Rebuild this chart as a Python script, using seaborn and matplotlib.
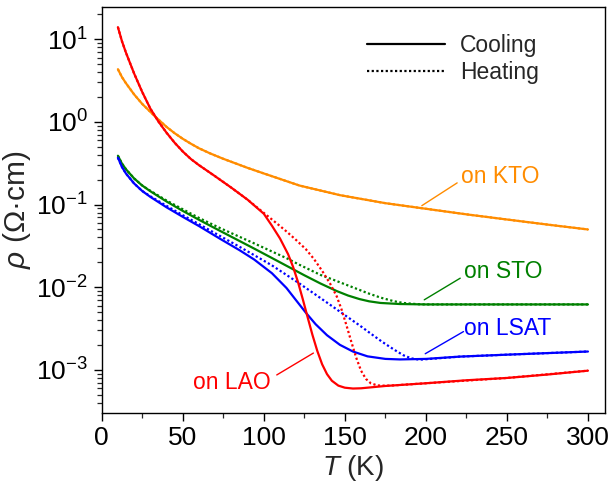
import numpy as np
import pandas as pd
import matplotlib
matplotlib.use("Agg")
import matplotlib.pyplot as plt
import seaborn as sns
from matplotlib.lines import Line2D
from matplotlib.ticker import LogLocator, MultipleLocator, NullFormatter

# ---------------- data ----------------
kto_T_cool = [10, 12.5, 15, 20, 25, 33, 40, 45, 50, 55, 60, 67, 75, 90, 100, 122, 147, 175, 200,
              225, 250, 275, 300]
kto_r_cool = [4.34, 3.48, 2.93, 2.15, 1.65, 1.16, 0.87, 0.73, 0.625, 0.545, 0.48, 0.415, 0.358,
              0.278, 0.238, 0.17, 0.13, 0.104, 0.089, 0.0762, 0.066, 0.0573, 0.050]
kto_T_heat = kto_T_cool
kto_r_heat = kto_r_cool

lao_T_cool = [10, 12.5, 15, 20, 25, 30, 35, 40, 45, 50, 55, 60, 65, 70, 80, 90, 100, 105, 110, 115,
              118, 121, 124, 127, 130, 133, 136, 139, 142, 146, 150, 155, 160, 175, 200, 225, 250,
              275, 300]
lao_r_cool = [14.0, 9.46, 6.85, 3.85, 2.30, 1.45, 1.01, 0.74, 0.56, 0.439, 0.356, 0.30, 0.257,
              0.22, 0.16, 0.1146, 0.0775, 0.0556, 0.0389, 0.0251, 0.0178, 0.01175, 0.00724,
              0.00437, 0.00266, 0.0017, 0.00117, 0.00089, 0.00074, 0.000646, 0.00061, 0.000596,
              0.0006, 0.00064, 0.00069, 0.00075, 0.00080, 0.00088, 0.00098]
lao_T_heat = [10, 12.5, 15, 20, 25, 30, 35, 40, 45, 50, 55, 60, 65, 70, 80, 90, 100, 105, 110, 114,
              120, 126, 131, 136, 141, 145, 148, 151, 154, 157, 160, 163, 166, 170, 175, 180, 200,
              250, 300]
lao_r_heat = [14.0, 9.46, 6.85, 3.85, 2.30, 1.45, 1.01, 0.74, 0.56, 0.439, 0.356, 0.30, 0.257,
              0.22, 0.16, 0.1146, 0.0794, 0.0661, 0.055, 0.0473, 0.0372, 0.0288, 0.0219, 0.0158,
              0.011, 0.00776, 0.00537, 0.00347, 0.00219, 0.00141, 0.00098, 0.00078, 0.00069,
              0.00065, 0.000645, 0.00065, 0.00069, 0.0008, 0.00098]

sto_T_cool = [10, 12.5, 15, 20, 25, 30, 40, 50, 60, 73, 85, 94, 105, 114, 125, 135, 145, 152, 159,
              165, 172, 184, 200, 250, 300]
sto_r_cool = [0.39, 0.313, 0.267, 0.207, 0.170, 0.145, 0.109, 0.0839, 0.0655, 0.0481, 0.0363,
              0.0294, 0.0226, 0.0182, 0.01397, 0.0111, 0.009, 0.00794, 0.0072, 0.00676, 0.00646,
              0.00627, 0.0062, 0.0062, 0.0062]
sto_T_heat = [10, 12.5, 15, 20, 25, 30, 40, 50, 60, 73, 94, 114, 122, 135, 143, 159, 164, 172, 180,
              186, 195, 200, 250, 300]
sto_r_heat = [0.39, 0.313, 0.267, 0.207, 0.170, 0.147, 0.112, 0.0879, 0.069, 0.052, 0.034, 0.0225,
              0.0187, 0.0141, 0.0123, 0.0093, 0.0085, 0.0075, 0.0068, 0.00646, 0.00624, 0.0062,
              0.0062, 0.0062]

lsat_T_cool = [10, 12.5, 15, 20, 25, 30, 40, 50, 60, 73, 85, 94, 105, 114, 120, 126, 132, 139, 147,
               155, 164, 175, 184, 200, 221, 250, 300]
lsat_r_cool = [0.37, 0.285, 0.237, 0.18, 0.146, 0.124, 0.0927, 0.0711, 0.055, 0.0386, 0.0281,
               0.0217, 0.0148, 0.0098, 0.00693, 0.00491, 0.00357, 0.00263, 0.00201, 0.00167,
               0.00146, 0.00136, 0.00134, 0.00136, 0.00145, 0.00153, 0.00167]
lsat_T_heat = [10, 12.5, 15, 20, 25, 30, 40, 50, 60, 73, 85, 94, 105, 114, 122, 135, 143, 152, 159,
               166, 173, 180, 186, 191, 196, 205, 221, 250, 300]
lsat_r_heat = [0.37, 0.285, 0.237, 0.18, 0.146, 0.126, 0.0966, 0.0745, 0.058, 0.0417, 0.0309,
               0.0245, 0.0184, 0.0141, 0.0111, 0.0074, 0.00575, 0.00432, 0.00347, 0.00275,
               0.00219, 0.00178, 0.00151, 0.00138, 0.00133, 0.00137, 0.00145, 0.00153, 0.00167]

x_ticks = [0, 50, 100, 150, 200, 250, 300]
legend_labels = ["Cooling", "Heating"]

series = [
    ("KTO", "#FF8C00", kto_T_cool, kto_r_cool, kto_T_heat, kto_r_heat),
    ("STO", "#008000", sto_T_cool, sto_r_cool, sto_T_heat, sto_r_heat),
    ("LSAT", "#0000FF", lsat_T_cool, lsat_r_cool, lsat_T_heat, lsat_r_heat),
    ("LAO", "#FF0000", lao_T_cool, lao_r_cool, lao_T_heat, lao_r_heat),
]

# ---------------- style ----------------
sns.set_style("ticks")
plt.rcParams["font.family"] = ["Liberation Sans", "DejaVu Sans"]
plt.rcParams["mathtext.fontset"] = "custom"
plt.rcParams["mathtext.rm"] = "Liberation Sans"
plt.rcParams["mathtext.it"] = "Liberation Sans:italic"
plt.rcParams["mathtext.bf"] = "Liberation Sans:bold"

fig = plt.figure(figsize=(6.09, 4.90), dpi=100)
ax = fig.add_axes([0.167, 0.158, 0.8264, 0.8285])

for name, col, Tc, rc, Th, rh in series:
    dfc = pd.DataFrame({"T": Tc, "rho": rc})
    dfh = pd.DataFrame({"T": Th, "rho": rh})
    sns.lineplot(data=dfh, x="T", y="rho", color=col, lw=1.6, linestyle=(0, (1, 1.1)),
                 estimator=None, ax=ax)
    sns.lineplot(data=dfc, x="T", y="rho", color=col, lw=1.6, estimator=None, ax=ax)

ax.set_yscale("log")
ax.set_xlim(0, 310.5)
ax.set_ylim(3.05e-4, 24.8)
ax.set_xticks(x_ticks)
ax.xaxis.set_minor_locator(MultipleLocator(25))
ax.yaxis.set_major_locator(LogLocator(base=10, numticks=20))
ax.yaxis.set_minor_locator(LogLocator(base=10, subs=np.arange(2, 10), numticks=20))
ax.yaxis.set_minor_formatter(NullFormatter())

for s in ax.spines.values():
    s.set_visible(True)
    s.set_linewidth(1.0)
    s.set_color("black")
ax.tick_params(which="major", direction="out", length=6, width=1, labelsize=19, colors="black",
               pad=4)
ax.tick_params(which="minor", direction="out", length=3.5, width=0.9)
ax.tick_params(top=False, right=False, which="both")

ax.set_xlabel(r"$T$ (K)", fontsize=20, labelpad=2)
ax.set_ylabel(r"$\rho$ (Ω·cm)", fontsize=21.5, labelpad=2)

# ---------------- labels ----------------
ax.text(221.5, 0.216, "on KTO", color="#FF8C00", fontsize=16.5, va="center", ha="left")
ax.plot([219.3, 197.5], [0.183, 0.097], color="#FF8C00", lw=1.0)
ax.text(223.3, 0.01535, "on STO", color="#008000", fontsize=16.5, va="center", ha="left")
ax.plot([221.2, 199.0], [0.01288, 0.00705], color="#008000", lw=1.0)
ax.text(223.6, 0.00314, "on LSAT", color="#0000FF", fontsize=16.5, va="center", ha="left")
ax.plot([223.2, 199.6], [0.00291, 0.00157], color="#0000FF", lw=1.0)
ax.text(56.5, 0.000698, "on LAO", color="#FF0000", fontsize=16.5, va="center", ha="left")
ax.plot([108.0, 130.6], [0.00087, 0.0016], color="#FF0000", lw=1.0)

handles = [Line2D([], [], color="black", lw=1.6),
           Line2D([], [], color="black", lw=1.6, linestyle=(0, (1, 1.1)))]
ax.legend(handles, legend_labels, loc="upper left", bbox_to_anchor=(0.527, 0.933), frameon=False,
          fontsize=16.5, handlelength=3.4, handletextpad=0.65, labelspacing=0.18, borderpad=0,
          borderaxespad=0)

fig.savefig("out.png", dpi=100)
